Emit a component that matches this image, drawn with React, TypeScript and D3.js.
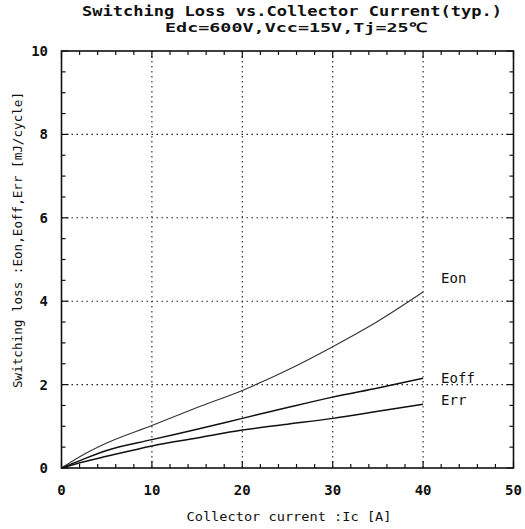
import React from 'react';
import * as d3 from 'd3';

// values (mJ/cycle vs A)
const current = [0, 2.5, 5, 10, 15, 20, 25, 30, 35, 40];
const eon = [0, 0.33, 0.6, 1.02, 1.45, 1.86, 2.35, 2.91, 3.52, 4.22];
const eoff = [0, 0.22, 0.42, 0.68, 0.93, 1.19, 1.45, 1.7, 1.92, 2.15];
const err = [0, 0.15, 0.28, 0.53, 0.72, 0.91, 1.05, 1.19, 1.36, 1.53];
const seriesNames = ['Eon', 'Eoff', 'Err'];
const xTicks = [0, 10, 20, 30, 40, 50];
const yTicks = [0, 2, 4, 6, 8, 10];

const W = 525;
const H = 529;
const left = 61.5, right = 513.5, top = 51, bottom = 468;
const FONT = '"DejaVu Sans Mono", monospace';

const App: React.FC = () => {
  const x = d3.scaleLinear().domain([0, 50]).range([left, right]);
  const y = d3.scaleLinear().domain([0, 10]).range([bottom, top]);

  const line = d3.line<[number, number]>()
    .x(d => x(d[0]))
    .y(d => y(d[1]))
    .curve(d3.curveMonotoneX);

  const allSeries = [eon, eoff, err];

  const xMinor = d3.range(0, 50.01, 2);
  const yMinor = d3.range(0, 10.01, 0.5);

  return (
    <svg width={W} height={H} style={{ position: 'absolute', left: 0, top: 0, background: '#fff' }}>
      {/* title */}
      <text x={292} y={16} textAnchor="middle" fontFamily={FONT} fontSize={14} fontWeight="bold"
        textLength={420} lengthAdjust="spacingAndGlyphs" fill="#111">
        Switching Loss vs.Collector Current(typ.)
      </text>
      <text x={296} y={32} textAnchor="middle" fontFamily={FONT} fontSize={13} fontWeight="bold"
        textLength={262} lengthAdjust="spacingAndGlyphs" fill="#111">
        Edc=600V,Vcc=15V,Tj=25℃
      </text>

      {/* grid */}
      {xTicks.slice(1, -1).map(t => (
        <line key={'gx' + t} x1={x(t)} x2={x(t)} y1={top} y2={bottom}
          stroke="#222" strokeWidth={1.1} strokeDasharray="1.5,3.5" />
      ))}
      {yTicks.slice(1, -1).map(t => (
        <line key={'gy' + t} x1={left} x2={right} y1={y(t)} y2={y(t)}
          stroke="#222" strokeWidth={1.1} strokeDasharray="1.5,3.5" />
      ))}

      {/* minor / major ticks, inward on all sides */}
      {xMinor.map(t => {
        const len = t % 10 === 0 ? 7 : 4;
        return (
          <g key={'tx' + t}>
            <line x1={x(t)} x2={x(t)} y1={bottom} y2={bottom - len} stroke="#111" strokeWidth={1.2} />
            <line x1={x(t)} x2={x(t)} y1={top} y2={top + len} stroke="#111" strokeWidth={1.2} />
          </g>
        );
      })}
      {yMinor.map(t => {
        const len = t % 2 === 0 ? 7 : 4;
        return (
          <g key={'ty' + t}>
            <line x1={left} x2={left + len} y1={y(t)} y2={y(t)} stroke="#111" strokeWidth={1.2} />
            <line x1={right} x2={right - len} y1={y(t)} y2={y(t)} stroke="#111" strokeWidth={1.2} />
          </g>
        );
      })}

      {/* frame */}
      <rect x={left} y={top} width={right - left} height={bottom - top}
        fill="none" stroke="#111" strokeWidth={1.6} />

      {/* curves */}
      {allSeries.map((s, i) => (
        <path key={seriesNames[i]}
          d={line(current.map((c, k) => [c, s[k]] as [number, number])) || ''}
          fill="none" stroke={i === 0 ? '#333' : '#111'} strokeWidth={i === 0 ? 1.1 : 1.5} />
      ))}

      {/* series labels */}
      {seriesNames.map((n, i) => {
        const last = allSeries[i][allSeries[i].length - 1];
        const offs = [-9, 5, 1];
        return (
          <text key={'lb' + n} x={x(40) + 18} y={y(last) + offs[i]} fontFamily={FONT}
            fontSize={14} fill="#111">{n}</text>
        );
      })}

      {/* tick labels */}
      {xTicks.map(t => (
        <text key={'xl' + t} x={x(t)} y={495} textAnchor="middle" fontFamily={FONT}
          fontSize={14} fontWeight="bold" fill="#111">{t}</text>
      ))}
      {yTicks.map(t => (
        <text key={'yl' + t} x={48} y={y(t) + 5} textAnchor="end" fontFamily={FONT}
          fontSize={14} fontWeight="bold" fill="#111">{t}</text>
      ))}

      {/* axis titles */}
      <text x={289} y={521} textAnchor="middle" fontFamily={FONT} fontSize={13}
        textLength={205} lengthAdjust="spacingAndGlyphs" fill="#111">
        Collector current :Ic [A]
      </text>
      <text transform={`translate(22,240) rotate(-90)`} textAnchor="middle" fontFamily={FONT}
        fontSize={13} textLength={296} lengthAdjust="spacingAndGlyphs" fill="#111">
        Switching loss :Eon,Eoff,Err [mJ/cycle]
      </text>
    </svg>
  );
};

export default App;
